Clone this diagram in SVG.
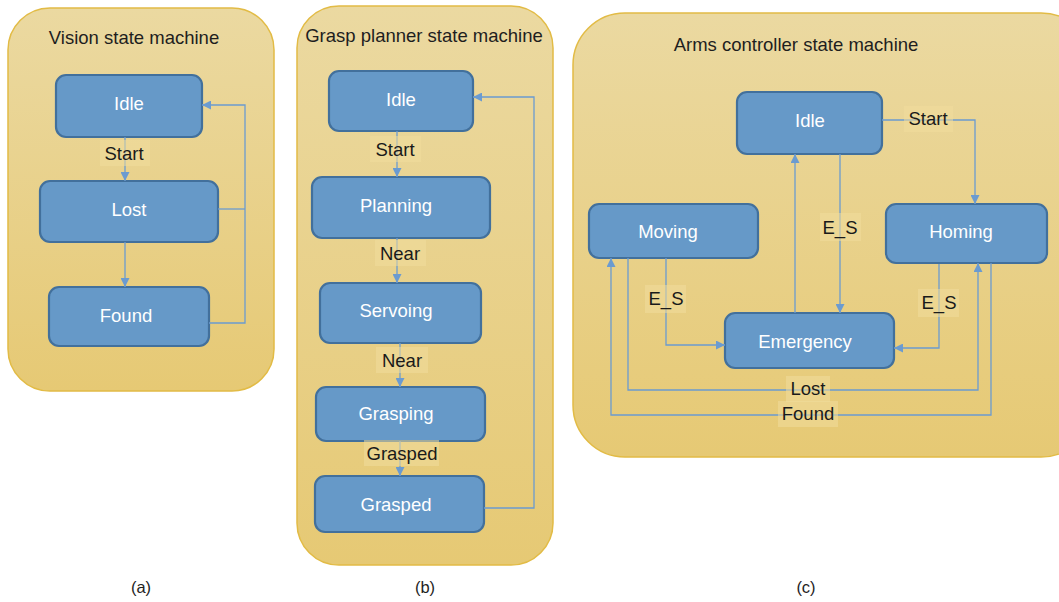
<svg xmlns="http://www.w3.org/2000/svg" width="1059" height="602" viewBox="0 0 1059 602">
  <defs>
    <linearGradient id="panelFill" x1="0" y1="0" x2="0" y2="1">
      <stop offset="0" stop-color="#ebd9a1"/>
      <stop offset="1" stop-color="#e6c974"/>
    </linearGradient>
    <marker id="arrow" viewBox="0 0 10 10" refX="10" refY="5" markerWidth="9" markerHeight="9" markerUnits="userSpaceOnUse" orient="auto">
      <path d="M0,0 L10,5 L0,10 z" fill="#6b9bd0"/>
    </marker>
    <style>
      .panel { fill: url(#panelFill); stroke: #e2bb45; stroke-width: 1.5; }
      .node rect { fill: #6699c8; stroke: #42709c; stroke-width: 2.2; }
      .node text { fill: #ffffff; font-family: "Liberation Sans", Arial, sans-serif; font-size: 18.5px; text-anchor: middle; dominant-baseline: central; }
      .title { fill: #1e1e1e; font-family: "Liberation Sans", Arial, sans-serif; font-size: 18.5px; text-anchor: middle; }
      .caption { fill: #1e1e1e; font-family: "Liberation Sans", Arial, sans-serif; font-size: 16.5px; text-anchor: middle; }
      .edge { fill: none; stroke: #6b9bd0; stroke-width: 1.3; }
      .lblbg { fill: #f0dc9c; opacity: 0.55; }
      .lbl { fill: #1a1a1a; font-family: "Liberation Sans", Arial, sans-serif; font-size: 18.5px; text-anchor: middle; dominant-baseline: central; }
    </style>
  </defs>

  <rect width="1059" height="602" fill="#ffffff"/>

  <!-- (a) Vision state machine -->
  <g id="panel-vision">
    <rect class="panel" x="8" y="8" width="266" height="383" rx="42"/>
    <text class="title" x="134" y="44">Vision state machine</text>
  </g>
  <g id="v-idle" class="node"><rect x="56" y="75" width="146" height="62" rx="10"/><text x="129" y="103">Idle</text></g>
  <g id="v-lost" class="node"><rect x="40" y="181" width="178" height="61" rx="10"/><text x="129" y="209">Lost</text></g>
  <g id="v-found" class="node"><rect x="49" y="287" width="160" height="59" rx="10"/><text x="126" y="315">Found</text></g>

  <!-- (b) Grasp planner state machine -->
  <g id="panel-grasp">
    <rect class="panel" x="297" y="6" width="256" height="559" rx="42"/>
    <text class="title" x="424" y="42">Grasp planner state machine</text>
  </g>
  <g id="g-idle" class="node"><rect x="329" y="71" width="144" height="60" rx="10"/><text x="401" y="99">Idle</text></g>
  <g id="g-planning" class="node"><rect x="312" y="177" width="178" height="61" rx="10"/><text x="396" y="205">Planning</text></g>
  <g id="g-servoing" class="node"><rect x="320" y="283" width="161" height="60" rx="10"/><text x="396" y="310">Servoing</text></g>
  <g id="g-grasping" class="node"><rect x="316" y="387" width="169" height="54" rx="10"/><text x="396" y="413">Grasping</text></g>
  <g id="g-grasped" class="node"><rect x="315" y="476" width="169" height="56" rx="10"/><text x="396" y="504">Grasped</text></g>

  <!-- (c) Arms controller state machine -->
  <g id="panel-arms">
    <rect class="panel" x="573" y="13" width="520" height="444" rx="52"/>
    <text class="title" x="796" y="51">Arms controller state machine</text>
  </g>
  <g id="a-idle" class="node"><rect x="737" y="92" width="145" height="62" rx="10"/><text x="810" y="120">Idle</text></g>
  <g id="a-moving" class="node"><rect x="589" y="204" width="169" height="54" rx="10"/><text x="668" y="231">Moving</text></g>
  <g id="a-homing" class="node"><rect x="886" y="204" width="161" height="59" rx="10"/><text x="961" y="231">Homing</text></g>
  <g id="a-emergency" class="node"><rect x="725" y="313" width="169" height="55" rx="10"/><text x="805" y="341">Emergency</text></g>

  <!-- connectors -->
  <g id="connectors">
    <!-- vision -->
    <path class="edge" d="M125,137 V181" marker-end="url(#arrow)"/>
    <path class="edge" d="M125,242 V287" marker-end="url(#arrow)"/>
    <path class="edge" d="M218,209 H245"/>
    <path class="edge" d="M209,323 H245 V105 H202" marker-end="url(#arrow)"/>

    <!-- grasp planner -->
    <path class="edge" d="M397,131 V177" marker-end="url(#arrow)"/>
    <path class="edge" d="M397,238 V283" marker-end="url(#arrow)"/>
    <path class="edge" d="M400,343 V387" marker-end="url(#arrow)"/>
    <path class="edge" d="M400,441 V476" marker-end="url(#arrow)"/>
    <path class="edge" d="M484,508 H534 V97 H473" marker-end="url(#arrow)"/>

    <!-- arms controller -->
    <path class="edge" d="M882,120 H975 V204" marker-end="url(#arrow)"/>
    <path class="edge" d="M795,313 V154" marker-end="url(#arrow)"/>
    <path class="edge" d="M840,154 V313" marker-end="url(#arrow)"/>
    <path class="edge" d="M666,258 V345 H725" marker-end="url(#arrow)"/>
    <path class="edge" d="M939,264 V348 H894" marker-end="url(#arrow)"/>
    <path class="edge" d="M628,258 V390 H978 V263" marker-end="url(#arrow)"/>
    <path class="edge" d="M991,263 V415 H611 V258" marker-end="url(#arrow)"/>

    <!-- connector labels -->
    <rect class="lblbg" x="100" y="140" width="50" height="26"/><text class="lbl" x="124" y="153">Start</text>
    <rect class="lblbg" x="370" y="136" width="51" height="26"/><text class="lbl" x="395" y="149">Start</text>
    <rect class="lblbg" x="375" y="240" width="51" height="26"/><text class="lbl" x="400" y="253">Near</text>
    <rect class="lblbg" x="376" y="347" width="52" height="26"/><text class="lbl" x="402" y="360">Near</text>
    <rect class="lblbg" x="364" y="440" width="75" height="26"/><text class="lbl" x="402" y="453">Grasped</text>
    <rect class="lblbg" x="904" y="106" width="49" height="26"/><text class="lbl" x="928" y="118">Start</text>
    <rect class="lblbg" x="820" y="213" width="41" height="28"/><text class="lbl" x="840" y="227">E_S</text>
    <rect class="lblbg" x="645" y="285" width="41" height="28"/><text class="lbl" x="666" y="298">E_S</text>
    <rect class="lblbg" x="918" y="289" width="41" height="28"/><text class="lbl" x="939" y="302">E_S</text>
    <rect class="lblbg" x="786" y="376" width="44" height="26"/><text class="lbl" x="808" y="388">Lost</text>
    <rect class="lblbg" x="778" y="401" width="60" height="26"/><text class="lbl" x="808" y="413">Found</text>
  </g>

  <!-- panel captions -->
  <text class="caption" x="141" y="593">(a)</text>
  <text class="caption" x="425" y="593">(b)</text>
  <text class="caption" x="806" y="593">(c)</text>
</svg>
